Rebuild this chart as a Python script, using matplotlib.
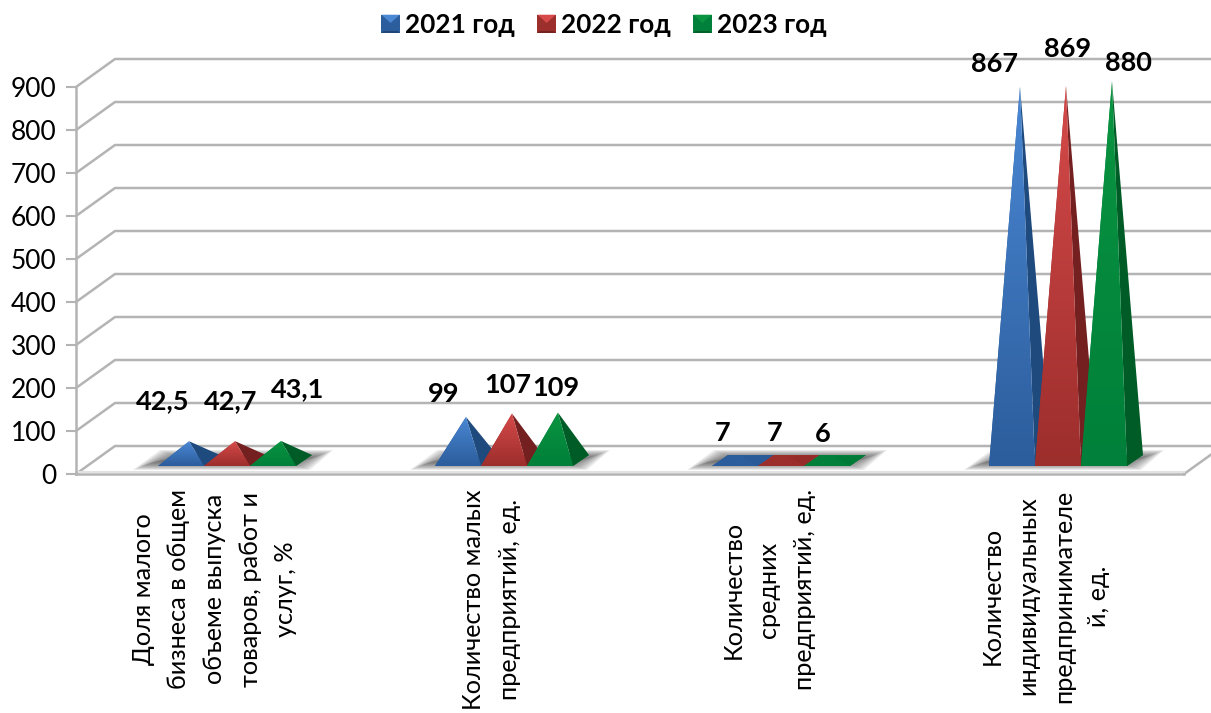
import matplotlib
matplotlib.use('Agg')
import matplotlib.pyplot as plt
import matplotlib.colors as mcolors
from matplotlib.legend_handler import HandlerBase
from matplotlib.patches import Patch, Polygon
import numpy as np

plt.rcParams['font.family'] = ['Lato', 'Open Sans', 'DejaVu Sans']

# Данные
categories = [
    "Доля малого\nбизнеса в общем\nобъеме выпуска\nтоваров, работ и\nуслуг, %",
    "Количество малых\nпредприятий, ед.",
    "Количество\nсредних\nпредприятий, ед.",
    "Количество\nиндивидуальных\nпредпринимателе\nй, ед.",
]
series_names = ["2021 год", "2022 год", "2023 год"]
values_2021 = [42.5, 99, 7, 867]
values_2022 = [42.7, 107, 7, 869]
values_2023 = [43.1, 109, 6, 880]
value_labels_2021 = ["42,5", "99", "7", "867"]
value_labels_2022 = ["42,7", "107", "7", "869"]
value_labels_2023 = ["43,1", "109", "6", "880"]
y_ticks = [0, 100, 200, 300, 400, 500, 600, 700, 800, 900]

# Сдвиг подписей от вершины, пиксели
label_offsets_2021 = [(-26, 40), (-22, 23), (-20, 23), (-25, 23)]
label_offsets_2022 = [(-4, 40), (-4, 28), (-14, 23), (2, 37)]
label_offsets_2023 = [(17, 52), (-2, 25), (-12, 23), (16, 18)]

# Цвета: верх грани, низ грани, боковая грань
palette = [("#4a88d4", "#2c5d9c", "#1f4a7d"),
           ("#d64a4a", "#9c2e2c", "#742020"),
           ("#0a9440", "#00803a", "#005c26")]

W, H = 1211, 713
AX_L, AX_R, AX_TOP, AX_BOTTOM = 76, 1184, 87, 474
PX_CAT = (AX_R - AX_L) / 4
PX_VAL = (AX_BOTTOM - AX_TOP) / 900


def px_x(p):
    return p / PX_CAT


def px_y(p):
    return p / PX_VAL


DEPTH_X, DEPTH_Y = px_x(39), px_y(28)
BAR_W, BAR_DX, BAR_DY = px_x(46), px_x(16), px_y(11)
BASE_Y, APEX_Y = px_y(8), px_y(14.5)
GROUP_OFF = px_x(56.5)

fig = plt.figure(figsize=(W / 100, H / 100), dpi=100)
ax = fig.add_axes([AX_L / W, 1 - AX_BOTTOM / H, (AX_R - AX_L) / W, (AX_BOTTOM - AX_TOP) / H])
ax.set_xlim(-0.5, 3.5)
ax.set_ylim(0, 900)
ax.patch.set_visible(False)

GRID = "#b4b4b4"
ax.spines[['top', 'right']].set_visible(False)
for s in ('left', 'bottom'):
    ax.spines[s].set_color(GRID)
    ax.spines[s].set_linewidth(1.8)

# Стенка и пол
for v in y_ticks:
    ax.plot([-0.5, -0.5 + DEPTH_X, 3.5 + DEPTH_X], [v, v + DEPTH_Y, v + DEPTH_Y],
            color=GRID, lw=1.8, clip_on=False, zorder=1)
ax.plot([3.5, 3.5 + DEPTH_X], [0, DEPTH_Y], color=GRID, lw=1.8, clip_on=False, zorder=1)
ax.plot([-0.5, 3.5], [px_y(2)] * 2, color="#e2e2e2", lw=1.5, clip_on=False, zorder=1)


def gradient_face(points, top, bottom, zorder):
    poly = Polygon(points, closed=True, transform=ax.transData, fc='none', ec='none')
    ax.add_patch(poly)
    poly.set_clip_on(False)
    cmap = mcolors.LinearSegmentedColormap.from_list("face", [top, bottom])
    xs, ys = zip(*points)
    im = ax.imshow(np.linspace(0, 1, 64).reshape(-1, 1), cmap=cmap, aspect='auto', origin='upper',
                   extent=(min(xs), max(xs), min(ys), max(ys)), zorder=zorder,
                   interpolation='bilinear')
    im.set_clip_box(fig.bbox)
    im.set_clip_path(poly)


series = [values_2021, values_2022, values_2023]
texts = [value_labels_2021, value_labels_2022, value_labels_2023]
offsets = [label_offsets_2021, label_offsets_2022, label_offsets_2023]

# Размытая тень на полу
for c in range(len(categories)):
    x0 = c - GROUP_OFF
    for k in range(14):
        g = k * 1.7
        shadow = [(x0 - px_x(25 - g), px_y(4 + g * 0.4)),
                  (x0 + px_x(152 - g), px_y(4 + g * 0.4)),
                  (x0 + px_x(175 - g), px_y(24 - g * 0.4)),
                  (x0 + px_x(2 + g), px_y(24 - g * 0.4))]
        ax.add_patch(Polygon(shadow, closed=True, fc="#444444", ec='none', alpha=0.09,
                             clip_on=False, zorder=2))

# Пирамиды
for s, vals in enumerate(series):
    top, bottom, side = palette[s]
    for c, v in enumerate(vals):
        xl = c - GROUP_OFF + s * BAR_W
        fl = (xl, BASE_Y)
        fr = (xl + BAR_W, BASE_Y)
        br = (xl + BAR_W + BAR_DX, BASE_Y + BAR_DY)
        bl = (xl + BAR_DX, BASE_Y + BAR_DY)
        apex = (xl + (BAR_W + BAR_DX) / 2, APEX_Y + v)
        z = 3 + s * 0.1
        # у плоских пирамид боковая грань почти не отличается от передней
        mix = min(1, v / 40)
        side_c = tuple(np.array(mcolors.to_rgb(side)) * mix + np.array(mcolors.to_rgb(bottom)) * (1 - mix))
        ax.add_patch(Polygon([fl, fr, br, bl], closed=True, fc=bottom, ec='none', clip_on=False, zorder=z))
        ax.add_patch(Polygon([fl, bl, apex], closed=True, fc=bottom, ec='none', clip_on=False, zorder=z))
        ax.add_patch(Polygon([fr, br, apex], closed=True, fc=side_c, ec='none', clip_on=False, zorder=z + 0.01))
        gradient_face([fl, fr, apex], top if v > 20 else bottom, bottom, z + 0.02)
        ax.annotate(texts[s][c], xy=apex, xytext=offsets[s][c], textcoords='offset pixels',
                    ha='center', va='center', fontsize=19.5, fontweight='bold', color='black',
                    zorder=6, annotation_clip=False)

ax.set_xlim(-0.5, 3.5)
ax.set_ylim(0, 900)

ax.set_yticks(y_ticks)
ax.tick_params(axis='y', length=7, width=1.5, color=GRID, labelsize=19, pad=7)
ax.set_xticks(range(len(categories)))
ax.set_xticklabels(categories, rotation=90, va='top', ha='center', multialignment='center',
                   fontsize=18.2, linespacing=1.66)
ax.tick_params(axis='x', length=0, pad=11)


class BevelHandler(HandlerBase):
    def create_artists(self, legend, orig_handle, xdescent, ydescent, width, height, fontsize, trans):
        base = orig_handle.get_facecolor()
        s = height * 1.0
        x0, y0 = (width - s) / 2, (height - s) / 2
        r = 0.22 * s
        sq = [(x0, y0), (x0 + s, y0), (x0 + s, y0 + s), (x0, y0 + s)]
        mid = (x0 + s / 2, y0 + s * 0.55)
        light = orig_handle.get_edgecolor()
        dark = tuple(0.75 * c for c in base[:3])
        return [Polygon(sq, closed=True, fc=base, ec='none', transform=trans),
                Polygon([sq[3], sq[2], mid], closed=True, fc=light, ec='none', transform=trans),
                Polygon([sq[0], sq[1], (x0 + s - r / 2, y0 + r / 2), (x0 + r / 2, y0 + r / 2)],
                        closed=True, fc=dark, ec='none', transform=trans)]


handles = [Patch(fc=palette[i][1], ec=palette[i][0], label=series_names[i]) for i in range(3)]
fig.legend(handles=handles, loc='center', bbox_to_anchor=(604 / W, 1 - 25 / H), ncol=3, frameon=False,
           prop={'size': 18.8, 'weight': 'bold'}, handler_map={Patch: BevelHandler()},
           handlelength=0.67, handletextpad=0.2, columnspacing=0.9, borderpad=0)

fig.savefig('out.png', dpi=100)
